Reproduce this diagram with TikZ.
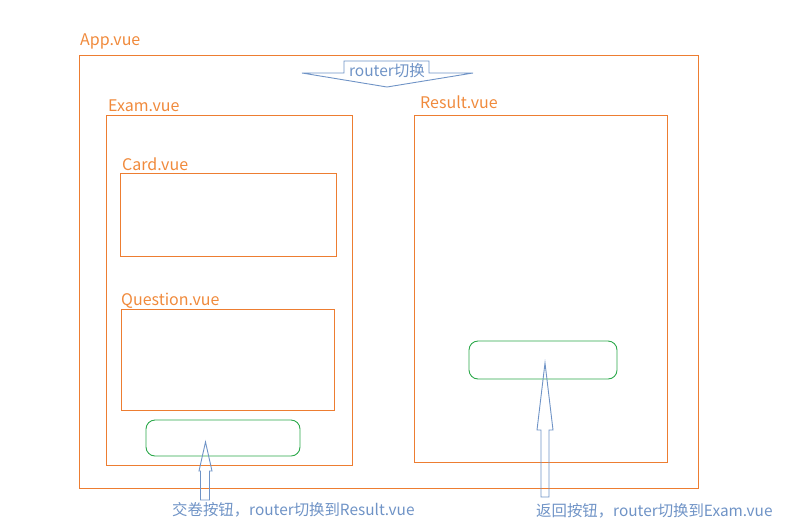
\documentclass[tikz,border=0pt]{standalone}
\usepackage{fontspec}
\setmainfont{Noto Sans CJK SC}
\begin{document}
\begin{tikzpicture}[x=1pt,y=-1pt,
  box/.style={draw=boxorange,line width=0.9pt},
  lbl/.style={anchor=base west,inner sep=0pt,text=lblorange,font=\fontsize{16}{18}\selectfont},
  btn/.style={draw=btngreen,line width=0.9pt,rounded corners=9pt},
  arr/.style={draw=arrblue,line width=0.9pt},
  note/.style={anchor=base west,inner sep=0pt,text=arrblue,font=\fontsize{15.4}{17}\selectfont}]
\definecolor{boxorange}{HTML}{ED7D31}
\definecolor{lblorange}{HTML}{F08A3C}
\definecolor{btngreen}{HTML}{2BA84A}
\definecolor{arrblue}{HTML}{6F93C6}
\useasboundingbox (0,0) rectangle (802,528);
% boxes
\draw[box] (79,55) rectangle (698,488);
\node[lbl] (applbl) at (80,45) {App.vue};
\draw[box] (106,115) rectangle (352,465);
\node[lbl] (examlbl) at (108,111) {Exam.vue};
\draw[box] (120,173) rectangle (336,256);
\node[lbl] (cardlbl) at (122,170) {Card.vue};
\draw[box] (121,309) rectangle (334,410);
\node[lbl] (questlbl) at (121,305) {Question.vue};
\draw[box] (414,115) rectangle (667,462);
\node[lbl] (reslbl) at (420,108) {Result.vue};
% buttons
\draw[btn] (146,420) rectangle (300,456);
\draw[btn] (469,341) rectangle (617,379);
% router arrow
\draw[arr,line join=miter] (302,73) -- (344,73) -- (344,61) -- (429,61) -- (429,73) -- (473,73) -- (387,87) -- cycle;
\node[anchor=base,inner sep=0pt,text=arrblue,font=\fontsize{15.5}{17}\selectfont] (router) at (387,76) {router切换};
% up arrows
\draw[arr] (200.5,500) -- (200.5,471) -- (199,471) -- (205.5,442) -- (212,471) -- (209.5,471) -- (209.5,500) -- cycle;
\draw[arr] (541,497) -- (541,430) -- (537,430) -- (545,363) -- (553,430) -- (549,430) -- (549,497) -- cycle;
% notes
\node[note] (n1) at (172,515) {交卷按钮，router切换到Result.vue};
\node[note] (n2) at (536,516) {返回按钮，router切换到Exam.vue};
\end{tikzpicture}
\end{document}
